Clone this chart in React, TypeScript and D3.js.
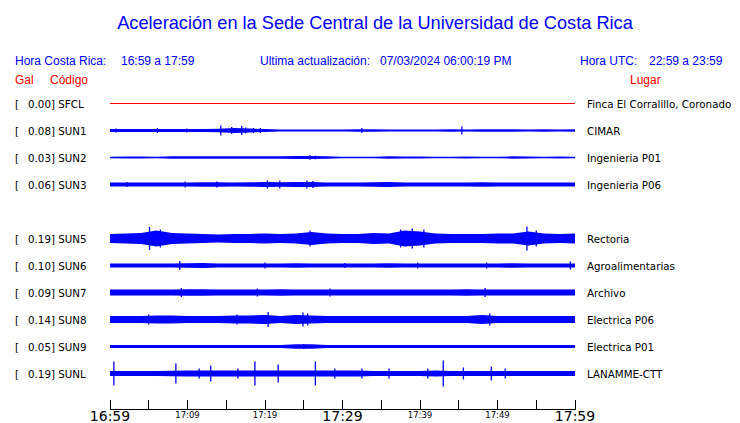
import React from 'react';
import * as d3 from 'd3';

// stations, top to bottom (slot 4 = SUN4, not shown)
const codes = ['SFCL', 'SUN1', 'SUN2', 'SUN3', 'SUN5', 'SUN6', 'SUN7', 'SUN8', 'SUN9', 'SUNL'];
const slots = [0, 1, 2, 3, 5, 6, 7, 8, 9, 10];
const peakGal = [0.0, 0.08, 0.03, 0.06, 0.19, 0.1, 0.09, 0.14, 0.05, 0.19];
const places = [
  'Finca El Corralillo, Coronado',
  'CIMAR',
  'Ingenieria P01',
  'Ingenieria P06',
  'Rectoria',
  'Agroalimentarias',
  'Archivo',
  'Electrica P06',
  'Electrica P01',
  'LANAMME-CTT',
];

// envelope half-amplitude every 2 minutes, 16:59 -> 17:59
const envMinutes = d3.range(0, 61, 2);
const sfclEnv = envMinutes.map(() => 0);
const sun1Env = [1.5, 1.5, 1.5, 1.5, 1.5, 1.5, 1.5, 1.8, 2.5, 2, 1.5, 1, 1, 1, 1, 1, 1.2, 1.2, 1, 1, 1, 1, 1.2, 1, 1.2, 1.2, 1.2, 1, 1.2, 1, 1.2];
const sun2Env = [0.7, 1, 1, 0.8, 1.2, 1.2, 1.3, 1.2, 1.2, 1.3, 1.2, 1.2, 1.5, 1.5, 1.2, 0.8, 0.7, 0.8, 1.2, 1, 1, 0.7, 0.7, 1, 0.7, 0.8, 1.2, 1, 0.8, 1, 0.7];
const sun3Env = [2, 2, 2, 2, 2, 2, 2.2, 2.2, 2, 2.2, 2.5, 2.2, 2.5, 2.5, 2, 2, 2, 2.2, 2.5, 2, 2, 2, 2, 2, 2.2, 2, 2, 2, 2, 2, 2];
const sun5Env = [4.5, 5, 5.5, 8, 5.5, 5, 4.5, 4, 4.5, 4.5, 5, 4.5, 5, 6.5, 5, 4.5, 4.5, 5.5, 5, 8, 7, 5, 4.5, 4.5, 4.5, 5, 5, 7, 5, 4.5, 5];
const sun6Env = [2, 2, 2, 2, 2, 2.2, 2.5, 2, 2, 2, 2, 2, 2.2, 2, 2, 2, 2, 2, 2.2, 2, 2, 2, 2, 2, 2, 2, 2.2, 2, 2, 2, 2];
const sun7Env = [3, 3, 3, 3, 3, 3.2, 3.2, 3, 3, 3, 3, 3.2, 3, 3, 3, 3, 3, 3, 3, 3, 3, 3, 3, 3.2, 3, 3, 3, 3, 3, 3, 3];
const sun8Env = [3.5, 3.5, 3.5, 4, 4, 3.5, 3.5, 3.5, 4, 4, 4.5, 3.5, 4.5, 4, 3.5, 3.5, 3.5, 3.5, 3.5, 3.5, 3.5, 3.5, 3.5, 3.5, 4.5, 3.5, 3.5, 3.5, 3.5, 3.5, 3.5];
const sun9Env = [1.5, 1.5, 1.5, 1.5, 1.5, 1.5, 1.5, 1.5, 1.5, 1.5, 1.5, 1.5, 2.2, 2.2, 1.5, 1.5, 1.5, 1.5, 1.5, 1.5, 1.5, 1.5, 1.5, 1.5, 1.5, 1.5, 1.5, 1.5, 1.5, 1.5, 1.5];
const sunlEnv = [2.5, 2.5, 2.5, 2.5, 2.8, 3, 3, 3, 3, 3, 3, 3, 3, 3, 3, 3, 3, 2.5, 2.5, 2.5, 2.5, 3, 2.5, 2.5, 2.5, 2.5, 2.5, 2.5, 2.5, 2.5, 2.5];

// isolated peaks: [minute, half-amplitude]
const sfclSpikes: [number, number][] = [];
const sun1Spikes: [number, number][] = [[0.8, 2], [6.1, 2.5], [9.9, 2], [14.3, 5], [15.7, 3.5], [17, 4.5], [17.5, 3], [18.5, 2.5], [19.4, 2.5], [32.5, 2.5], [45.4, 4]];
const sun2Spikes: [number, number][] = [[25.8, 2.2], [26.5, 1.8]];
const sun3Spikes: [number, number][] = [[2.2, 2.5], [9.7, 3], [13.8, 3], [20.3, 4], [21.9, 4], [25.4, 4], [26.2, 3.5]];
const sun5Spikes: [number, number][] = [[5.1, 11.5], [6.5, 9], [25.8, 8], [37.5, 9], [39, 10], [40.5, 9], [53.8, 12], [55, 8]];
const sun6Spikes: [number, number][] = [[9, 4.5], [20, 3], [30.3, 2.5], [39.7, 3], [48.6, 3], [59.4, 4]];
const sun7Spikes: [number, number][] = [[9.2, 4.5], [19, 4], [28.4, 4], [48.4, 4.5]];
const sun8Spikes: [number, number][] = [[5, 5], [16.4, 5], [20.4, 7.5], [24.9, 7], [25.5, 6], [49, 6]];
const sun9Spikes: [number, number][] = [[25, 2.5]];
const sunlSpikes: [number, number][] = [[0.5, 12], [8.5, 10], [11.5, 5], [13, 8], [16.5, 5], [18.7, 12], [21.7, 9], [26.5, 12], [29, 5], [32.5, 5], [36, 5], [41, 5], [43, 13], [45.6, 6], [49.2, 7], [51, 5]];

const envelopes = [sfclEnv, sun1Env, sun2Env, sun3Env, sun5Env, sun6Env, sun7Env, sun8Env, sun9Env, sunlEnv];
const spikes = [sfclSpikes, sun1Spikes, sun2Spikes, sun3Spikes, sun5Spikes, sun6Spikes, sun7Spikes, sun8Spikes, sun9Spikes, sunlSpikes];

const tickLabels = ['16:59', '', '17:09', '', '17:19', '', '17:29', '', '17:39', '', '17:49', '', '17:59'];

const W = 740;
const H = 423;
const BLUE = '#0000ff';
const RED = '#ff0000';
const SANS = 'Liberation Sans, Arial, sans-serif';
const DEJA = 'DejaVu Sans, sans-serif';

export default function App() {
  const x = d3.scaleLinear().domain([0, 60]).range([110, 575]);
  const rowY = d3.scaleLinear().domain([0, 10]).range([103, 373]);
  const amp = d3.scaleLinear().domain([0, 12]).range([0, 12]);
  const axisY = 409.5;

  return (
    <div style={{ position: 'fixed', left: 0, top: 0, width: W, height: H, background: '#fff' }}>
      <svg width={W} height={H} style={{ display: 'block' }}>
        <text x={375} y={29} textAnchor="middle" fill={BLUE} fontFamily={SANS} fontSize={18.2}>
          Aceleración en la Sede Central de la Universidad de Costa Rica
        </text>

        <g fill={BLUE} fontFamily={SANS} fontSize={12}>
          <text x={15} y={65}>Hora Costa Rica:</text>
          <text x={121} y={65}>16:59 a 17:59</text>
          <text x={260} y={65}>Ultima actualización:</text>
          <text x={380} y={65}>07/03/2024 06:00:19 PM</text>
          <text x={580} y={65}>Hora UTC:</text>
          <text x={649} y={65}>22:59 a 23:59</text>
        </g>
        <g fill={RED} fontFamily={SANS} fontSize={12}>
          <text x={15} y={84}>Gal</text>
          <text x={50} y={84}>Código</text>
          <text x={630} y={84}>Lugar</text>
        </g>

        {codes.map((code, i) => {
          const cy = rowY(slots[i]) + 0.5;
          const data = envMinutes.map((m, k) => ({ m, v: envelopes[i][k] }));
          const area = d3
            .area<{ m: number; v: number }>()
            .x(d => x(d.m))
            .y0(d => cy + amp(d.v))
            .y1(d => cy - amp(d.v))
            .curve(d3.curveLinear);
          const color = code === 'SFCL' ? RED : BLUE;
          return (
            <g key={code}>
              <text x={15} y={cy + 4} fontFamily={DEJA} fontSize={10.3} fill="#000">[</text>
              <text x={28} y={cy + 4} fontFamily={DEJA} fontSize={10.3} fill="#000">
                {peakGal[i].toFixed(2)}] {code}
              </text>
              <line x1={x(0)} x2={x(60)} y1={cy} y2={cy} stroke={color} strokeWidth={1} shapeRendering="crispEdges" />
              <path d={area(data) || ''} fill={color} />
              {spikes[i].map(([m, a], k) => (
                <line key={k} x1={x(m)} x2={x(m)} y1={cy - amp(a)} y2={cy + amp(a)} stroke={color} strokeWidth={1.3} />
              ))}
              <text x={587} y={cy + 4} fontFamily={DEJA} fontSize={10.3} fill="#000">
                {places[i]}
              </text>
            </g>
          );
        })}

        <g shapeRendering="crispEdges">
          <line x1={x(0)} x2={x(60)} y1={axisY} y2={axisY} stroke="#000" strokeWidth={1} />
          {x.ticks(12).map((t, k) => {
            const big = t % 30 === 0;
            return (
              <g key={t}>
                <line x1={x(t)} x2={x(t)} y1={axisY - 10} y2={axisY} stroke="#000" strokeWidth={1} />
                {tickLabels[k] && (
                  <text
                    x={x(t)}
                    y={big ? 421 : 418}
                    textAnchor="middle"
                    fontFamily={DEJA}
                    fontSize={big ? 14 : 8.5}
                    fill="#000"
                  >
                    {tickLabels[k]}
                  </text>
                )}
              </g>
            );
          })}
        </g>
      </svg>
    </div>
  );
}
